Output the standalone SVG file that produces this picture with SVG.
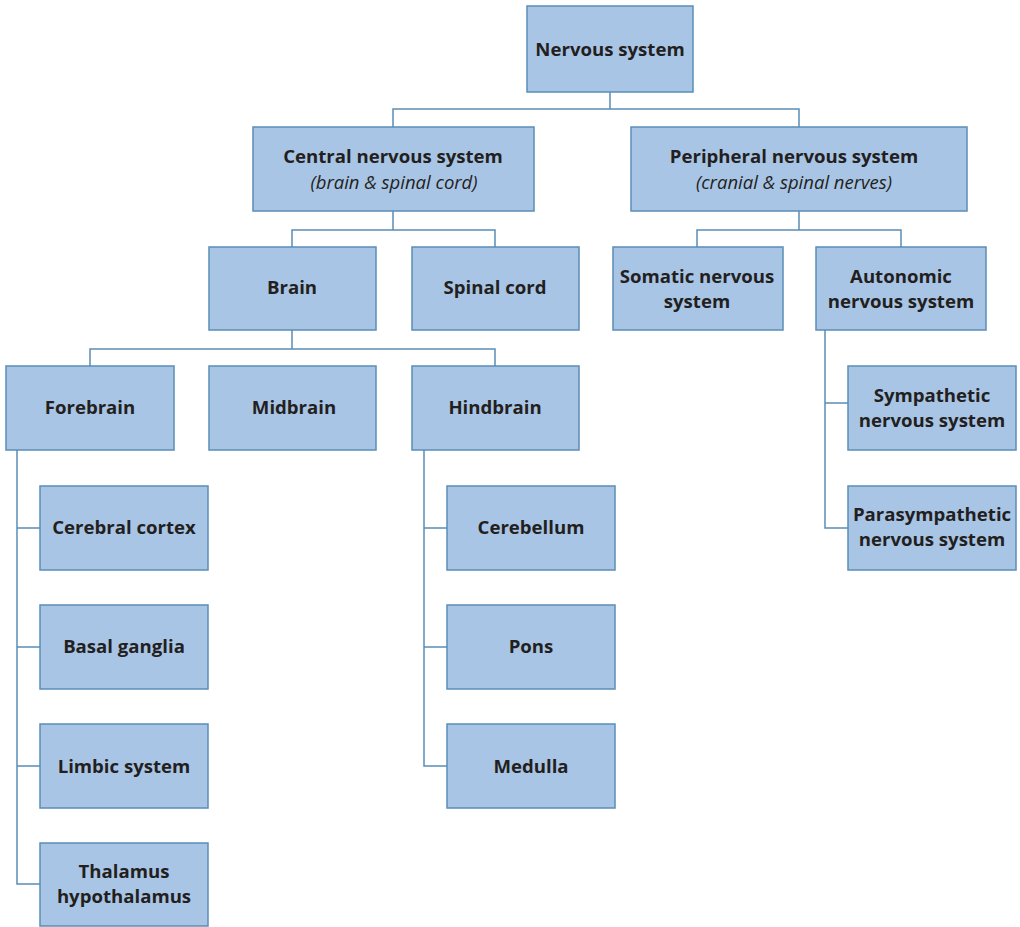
<svg xmlns="http://www.w3.org/2000/svg" width="1020" height="927" viewBox="0 0 1020 927">
<style>
.box{fill:#a9c5e6;stroke:#5b8db8;stroke-width:1.5}
.t{font-family:"Open Sans","Liberation Sans",sans-serif;font-weight:bold;font-size:18.6px;fill:#231f20;text-anchor:middle}
.i{font-family:"Open Sans","Liberation Sans",sans-serif;font-style:italic;font-size:18.5px;fill:#231f20;text-anchor:middle}
.c{fill:none;stroke:#5b8db8;stroke-width:1.5}
</style>
<rect width="1020" height="927" fill="#ffffff"/>
<g id="connectors" class="c">
<path d="M610 92V109M393 127V109H799V127"/>
<path d="M393 211V230M292 247V230H495V247"/>
<path d="M799 211V230M697 247V230H901V247"/>
<path d="M292 330V349M90 366V349H495V366"/>
<path d="M17 450V884H40M17 528H40M17 647H40M17 766H40"/>
<path d="M424 450V766H447M424 528H447M424 647H447"/>
<path d="M825 330V528H848M825 403H848"/>
</g>
<g id="n-nervous"><rect class="box" x="527" y="6" width="166" height="86"/><text class="t" x="610" y="56">Nervous system</text></g>
<g id="n-cns"><rect class="box" x="253" y="127" width="281" height="84"/><text class="t" x="393" y="163">Central nervous system</text><text class="i" x="394" y="189">(brain &amp; spinal cord)</text></g>
<g id="n-pns"><rect class="box" x="631" y="127" width="336" height="84"/><text class="t" x="794" y="163">Peripheral nervous system</text><text class="i" x="794" y="189">(cranial &amp; spinal nerves)</text></g>
<g id="n-brain"><rect class="box" x="209" y="247" width="167" height="83"/><text class="t" x="292" y="294">Brain</text></g>
<g id="n-spinal"><rect class="box" x="412" y="247" width="167" height="83"/><text class="t" x="495" y="294">Spinal cord</text></g>
<g id="n-somatic"><rect class="box" x="613" y="247" width="170" height="83"/><text class="t" x="697" y="283">Somatic nervous</text><text class="t" x="697" y="308">system</text></g>
<g id="n-autonomic"><rect class="box" x="816" y="247" width="170" height="83"/><text class="t" x="901" y="283">Autonomic</text><text class="t" x="901" y="308">nervous system</text></g>
<g id="n-forebrain"><rect class="box" x="6" y="366" width="168" height="84"/><text class="t" x="90" y="414">Forebrain</text></g>
<g id="n-midbrain"><rect class="box" x="209" y="366" width="167" height="84"/><text class="t" x="294" y="414">Midbrain</text></g>
<g id="n-hindbrain"><rect class="box" x="412" y="366" width="167" height="84"/><text class="t" x="495" y="414">Hindbrain</text></g>
<g id="n-sympathetic"><rect class="box" x="848" y="366" width="168" height="84"/><text class="t" x="932" y="402">Sympathetic</text><text class="t" x="932" y="427">nervous system</text></g>
<g id="n-parasympathetic"><rect class="box" x="848" y="486" width="168" height="84"/><text class="t" x="932" y="521">Parasympathetic</text><text class="t" x="932" y="546">nervous system</text></g>
<g id="n-cortex"><rect class="box" x="40" y="486" width="168" height="84"/><text class="t" x="124" y="534">Cerebral cortex</text></g>
<g id="n-basal"><rect class="box" x="40" y="605" width="168" height="84"/><text class="t" x="124" y="653">Basal ganglia</text></g>
<g id="n-limbic"><rect class="box" x="40" y="724" width="168" height="84"/><text class="t" x="124" y="773">Limbic system</text></g>
<g id="n-thalamus"><rect class="box" x="40" y="843" width="168" height="83"/><text class="t" x="124" y="878">Thalamus</text><text class="t" x="124" y="903">hypothalamus</text></g>
<g id="n-cerebellum"><rect class="box" x="447" y="486" width="168" height="84"/><text class="t" x="531" y="534">Cerebellum</text></g>
<g id="n-pons"><rect class="box" x="447" y="605" width="168" height="84"/><text class="t" x="531" y="653">Pons</text></g>
<g id="n-medulla"><rect class="box" x="447" y="724" width="168" height="84"/><text class="t" x="531" y="773">Medulla</text></g>
</svg>
